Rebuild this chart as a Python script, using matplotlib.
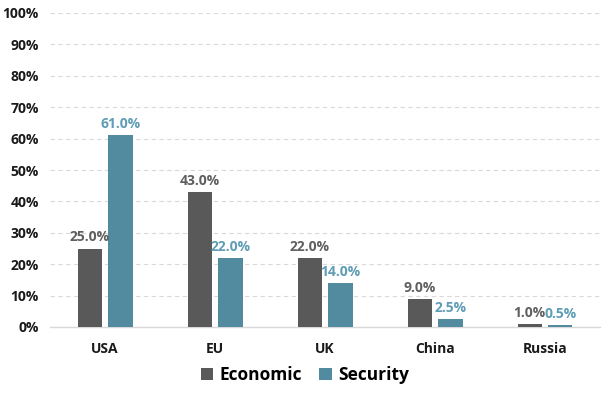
import matplotlib.pyplot as plt
import numpy as np

plt.rcParams['font.family'] = ['Open Sans', 'DejaVu Sans']

countries = ['USA', 'EU', 'UK', 'China', 'Russia']
economic = [25.0, 43.0, 22.0, 9.0, 1.0]
security = [61.0, 22.0, 14.0, 2.5, 0.5]

econ_col = '#595959'
sec_col = '#528b9f'
sec_txt = '#5e9db5'

fig = plt.figure(figsize=(6.02, 3.94), dpi=100)
ax = fig.add_axes([50 / 602, 1 - 327 / 394, 550 / 602, 314 / 394])

x = np.arange(len(countries))
w = 0.22
b1 = ax.bar(x - 0.14, economic, w, color=econ_col, label='Economic', zorder=3)
b2 = ax.bar(x + 0.14, security, w, color=sec_col, label='Security', zorder=3)

for rect, v in zip(b1, economic):
    ax.annotate(f'{v:.1f}%', (rect.get_x() + rect.get_width() / 2, v), xytext=(0, 3),
                textcoords='offset points', ha='center', va='bottom',
                fontsize=10, fontweight='bold', color='#5f5f5f')
for rect, v in zip(b2, security):
    ax.annotate(f'{v:.1f}%', (rect.get_x() + rect.get_width() / 2, v), xytext=(0, 3),
                textcoords='offset points', ha='center', va='bottom',
                fontsize=10, fontweight='bold', color=sec_txt)

ax.set_xlim(-0.5, len(countries) - 0.5)
ax.set_ylim(0, 100)
ax.set_yticks(np.arange(0, 101, 10))
ax.set_yticklabels([f'{t}%' for t in range(0, 101, 10)], fontsize=10, fontweight='bold', color='#1a1a1a')
ax.set_xticks(x)
ax.set_xticklabels(countries, fontsize=10, fontweight='bold', color='#1a1a1a')
ax.tick_params(axis='both', length=0)
ax.tick_params(axis='x', pad=11)
ax.tick_params(axis='y', pad=8)

ax.yaxis.grid(True, linestyle=(0, (4, 3)), color='#d9d9d9', linewidth=0.8, zorder=0)
for s in ['top', 'right', 'left']:
    ax.spines[s].set_visible(False)
ax.spines['bottom'].set_color('#d9d9d9')
ax.spines['bottom'].set_linewidth(1.0)

ax.legend(loc='center', bbox_to_anchor=(305 / 602, 1 - 375 / 394), bbox_transform=fig.transFigure,
          ncol=2, frameon=False, prop={'size': 12.5, 'weight': 'bold'},
          handlelength=0.7, handleheight=0.7, handletextpad=0.4, columnspacing=1.0)

fig.savefig('out.png', dpi=100)
